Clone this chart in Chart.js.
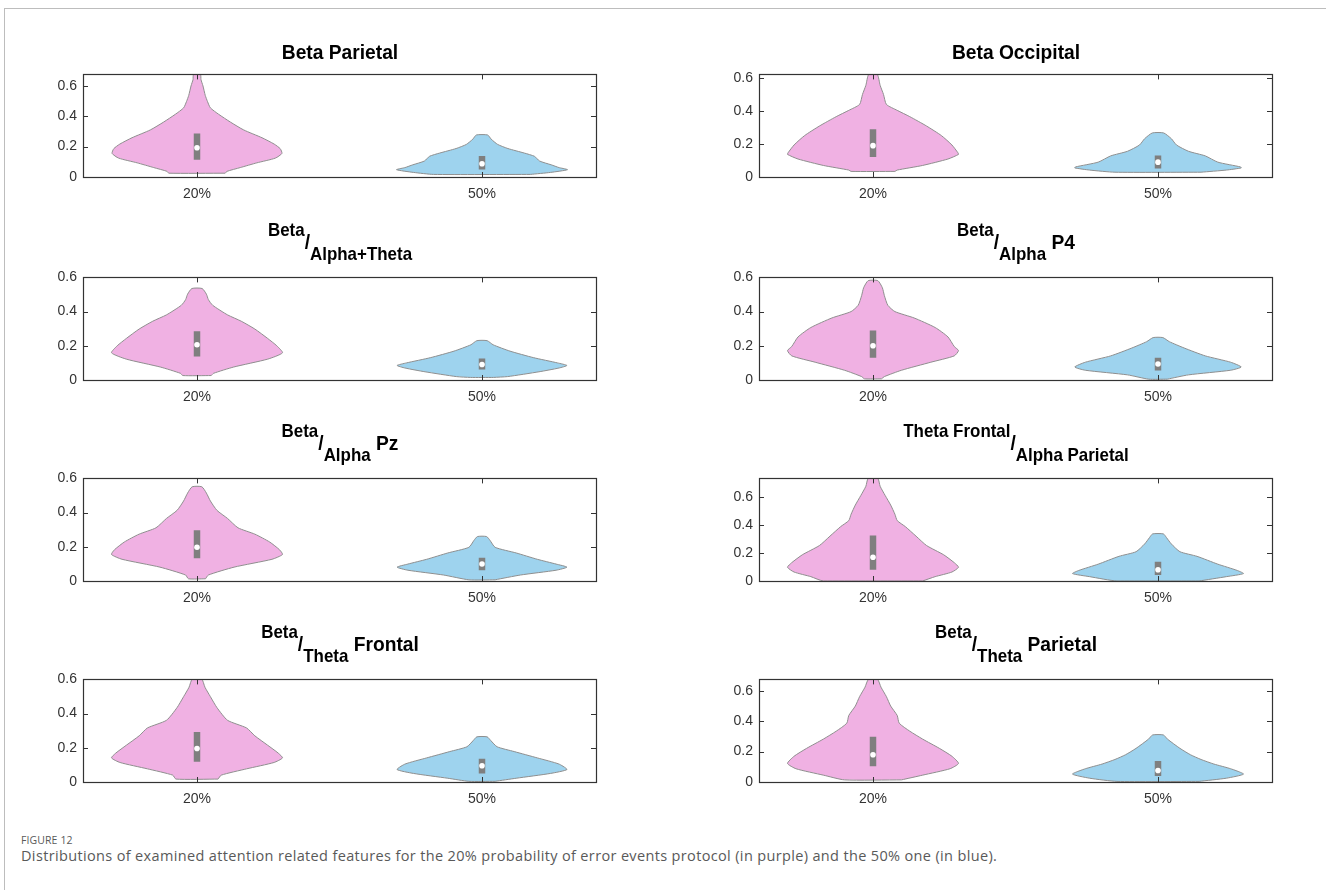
<!DOCTYPE html>
<html>
<head>
<meta charset="utf-8">
<script src="https://cdn.jsdelivr.net/npm/chart.js@4.4.1/dist/chart.umd.min.js"></script>
<style>
  html, body { margin: 0; padding: 0; background: #fff; }
  body { width: 1326px; height: 890px; position: relative; overflow: hidden; font-family: "Liberation Sans", Arial, sans-serif; }
  #frame { position: absolute; left: 4px; top: 8px; right: -2px; bottom: -2px; border-left: 1.5px solid #bdbdbd; border-top: 1.5px solid #bdbdbd; }
  canvas { position: absolute; }
  .ttl { position: absolute; white-space: pre; font-weight: bold; color: #000; font-size: 21px; line-height: 1; transform-origin: 50% 50%; }
  .cap { position: absolute; white-space: pre; font-family: "Open Sans", "Noto Sans", sans-serif; color: #595959; line-height: 1; }
</style>
</head>
<body>
<div id="frame"></div>
<script>
// Groups on the x axis
const categories = ['20%', '50%'];
const yTickValues = [0, 0.2, 0.4, 0.6];

// Panel titles: 'sup' = raised, 'sub' = lowered, 'main' = normal line
const panelTitles = [
  [['main', 'Beta Parietal']],
  [['main', 'Beta Occipital']],
  [['sup', 'Beta'], ['main', '/'], ['sub', 'Alpha+Theta']],
  [['sup', 'Beta'], ['main', '/'], ['sub', 'Alpha'], ['main', ' P4']],
  [['sup', 'Beta'], ['main', '/'], ['sub', 'Alpha'], ['main', ' Pz']],
  [['sup', 'Theta Frontal'], ['main', '/'], ['sub', 'Alpha Parietal']],
  [['sup', 'Beta'], ['main', '/'], ['sub', 'Theta'], ['main', ' Frontal']],
  [['sup', 'Beta'], ['main', '/'], ['sub', 'Theta'], ['main', ' Parietal']]
];

// Upper limit of each panel's y axis
const yMax = [0.674, 0.622, 0.6, 0.6, 0.6, 0.732, 0.6, 0.674];

// Violin outlines: [value, half width in group units], from bottom to top
const betaParietal20 = [[0.025,0.099],[0.037,0.105],[0.062,0.152],[0.093,0.21],[0.124,0.275],[0.155,0.298],[0.186,0.292],[0.216,0.271],[0.258,0.228],[0.309,0.164],[0.361,0.117],[0.412,0.076],[0.454,0.047],[0.495,0.037],[0.536,0.029],[0.598,0.021],[0.64,0.014],[0.674,0.012]];
const betaParietal50 = [[0.017,0.17],[0.03,0.24],[0.048,0.30],[0.062,0.27],[0.08,0.243],[0.105,0.202],[0.136,0.184],[0.157,0.149],[0.187,0.091],[0.214,0.055],[0.249,0.032],[0.276,0.02]];
const betaOccipital20 = [[0.034,0.077],[0.042,0.085],[0.07,0.174],[0.109,0.263],[0.137,0.30],[0.147,0.298],[0.194,0.277],[0.251,0.24],[0.309,0.188],[0.366,0.129],[0.404,0.085],[0.44,0.047],[0.50,0.037],[0.556,0.025],[0.622,0.015]];
const betaOccipital50 = [[0.029,0.151],[0.042,0.24],[0.055,0.292],[0.061,0.29],[0.09,0.21],[0.128,0.166],[0.156,0.107],[0.194,0.065],[0.232,0.047],[0.267,0.02]];
const betaAlphaTheta20 = [[0.026,0.05],[0.039,0.058],[0.076,0.129],[0.122,0.248],[0.159,0.30],[0.2,0.28],[0.243,0.248],[0.298,0.203],[0.344,0.155],[0.381,0.107],[0.437,0.055],[0.47,0.04],[0.502,0.033],[0.535,0.018]];
const betaAlphaTheta50 = [[0.015,0.04],[0.02,0.09],[0.048,0.2],[0.07,0.27],[0.085,0.298],[0.1,0.265],[0.131,0.18],[0.169,0.098],[0.206,0.039],[0.23,0.018]];
const betaAlphaP4_20 = [[0.007,0.03],[0.02,0.04],[0.057,0.1],[0.104,0.203],[0.141,0.285],[0.172,0.30],[0.196,0.285],[0.252,0.263],[0.307,0.218],[0.363,0.144],[0.40,0.077],[0.437,0.052],[0.493,0.04],[0.539,0.033],[0.581,0.017]];
const betaAlphaP4_50 = [[0.005,0.033],[0.03,0.107],[0.057,0.255],[0.076,0.292],[0.104,0.255],[0.141,0.166],[0.187,0.092],[0.224,0.04],[0.248,0.017]];
const betaAlphaPz20 = [[0.013,0.03],[0.035,0.04],[0.081,0.13],[0.127,0.263],[0.155,0.30],[0.182,0.29],[0.228,0.255],[0.274,0.203],[0.311,0.144],[0.366,0.107],[0.413,0.07],[0.468,0.047],[0.514,0.033],[0.551,0.017]];
const betaAlphaPz50 = [[0.007,0.046],[0.035,0.135],[0.063,0.26],[0.081,0.298],[0.099,0.26],[0.127,0.194],[0.164,0.12],[0.197,0.046],[0.238,0.028],[0.26,0.016]];
const thetaAlpha20 = [[0,0.174],[0.031,0.218],[0.064,0.277],[0.098,0.30],[0.131,0.285],[0.187,0.248],[0.253,0.188],[0.32,0.151],[0.387,0.114],[0.431,0.085],[0.476,0.077],[0.542,0.062],[0.609,0.043],[0.676,0.025],[0.731,0.017]];
const thetaAlpha50 = [[0,0.144],[0.031,0.24],[0.053,0.30],[0.076,0.277],[0.12,0.21],[0.176,0.137],[0.209,0.077],[0.264,0.047],[0.309,0.03],[0.336,0.019]];
const betaThetaFrontal20 = [[0.017,0.074],[0.04,0.085],[0.077,0.174],[0.114,0.27],[0.141,0.30],[0.169,0.285],[0.215,0.248],[0.27,0.203],[0.316,0.174],[0.361,0.107],[0.435,0.07],[0.499,0.047],[0.554,0.028],[0.604,0.016]];
const betaThetaFrontal50 = [[0.004,0.046],[0.022,0.12],[0.05,0.24],[0.073,0.298],[0.105,0.27],[0.141,0.194],[0.178,0.113],[0.206,0.053],[0.242,0.031],[0.264,0.018]];
const betaThetaParietal20 = [[0.014,0.1],[0.045,0.174],[0.087,0.27],[0.122,0.30],[0.169,0.277],[0.221,0.233],[0.282,0.174],[0.334,0.129],[0.386,0.092],[0.437,0.085],[0.499,0.062],[0.561,0.047],[0.623,0.028],[0.674,0.016]];
const betaThetaParietal50 = [[0.004,0.144],[0.025,0.24],[0.052,0.30],[0.087,0.255],[0.118,0.196],[0.148,0.151],[0.179,0.114],[0.221,0.077],[0.282,0.033],[0.309,0.019]];

// Box summaries per panel: [lower quartile, median, upper quartile]
const boxStats20 = [[0.113,0.192,0.285],[0.122,0.19,0.29],[0.137,0.206,0.285],[0.13,0.2,0.289],[0.133,0.197,0.297],[0.08,0.169,0.324],[0.119,0.196,0.292],[0.103,0.179,0.297]];
const boxStats50 = [[0.049,0.087,0.138],[0.051,0.09,0.131],[0.061,0.091,0.126],[0.056,0.094,0.13],[0.063,0.099,0.136],[0.042,0.08,0.138],[0.05,0.095,0.136],[0.039,0.076,0.138]];

const violins20 = [betaParietal20, betaOccipital20, betaAlphaTheta20, betaAlphaP4_20, betaAlphaPz20, thetaAlpha20, betaThetaFrontal20, betaThetaParietal20];
const violins50 = [betaParietal50, betaOccipital50, betaAlphaTheta50, betaAlphaP4_50, betaAlphaPz50, thetaAlpha50, betaThetaFrontal50, betaThetaParietal50];

// Page geometry
const COL_LEFT = [83, 759];
const ROW_TOP = [68, 271, 472, 673];
const PLOT_W = 513, PLOT_H = 109;
const PAD_L = 60, PAD_T = 8, PAD_R = 8, PAD_B = 32;

const FILL = ['#f0b1e3', '#9ed3ee'];
const EDGE = '#8f8f8f';
const AXIS = '#333333';
const TICK_FONT = { family: '"Liberation Sans", Arial, sans-serif', size: 14 };

// Turns a violin profile into a closed outline around the group position
function outline(profile, center) {
  const right = profile.map(([v, w]) => ({ x: center + w, y: v }));
  const left = profile.slice().reverse().map(([v, w]) => ({ x: center - w, y: v }));
  const pts = right.concat(left);
  pts.push(pts[0]);
  return pts;
}

// Box frame with inward tick marks on all four sides
const axesBox = {
  id: 'axesBox',
  afterDatasetsDraw(chart) {
    const { ctx, chartArea: a, scales } = chart;
    const L = 5;
    ctx.save();
    ctx.strokeStyle = AXIS;
    ctx.lineWidth = 1;
    ctx.beginPath();
    scales.x.ticks.forEach(t => {
      const px = Math.round(scales.x.getPixelForValue(t.value)) + 0.5;
      ctx.moveTo(px, a.bottom); ctx.lineTo(px, a.bottom - L);
      ctx.moveTo(px, a.top); ctx.lineTo(px, a.top + L);
    });
    scales.y.ticks.forEach(t => {
      const py = Math.round(scales.y.getPixelForValue(t.value)) + 0.5;
      ctx.moveTo(a.left, py); ctx.lineTo(a.left + L, py);
      ctx.moveTo(a.right, py); ctx.lineTo(a.right - L, py);
    });
    ctx.stroke();
    ctx.lineWidth = 1.2;
    ctx.strokeRect(Math.round(a.left) + 0.5, Math.round(a.top) + 0.5,
                   Math.round(a.right - a.left), Math.round(a.bottom - a.top));
    ctx.restore();
  }
};

function makePanel(i) {
  const col = i % 2, row = Math.floor(i / 2);
  const cv = document.createElement('canvas');
  const w = PLOT_W + PAD_L + PAD_R, h = PLOT_H + PAD_T + PAD_B;
  cv.width = w; cv.height = h;
  cv.style.left = (COL_LEFT[col] - PAD_L) + 'px';
  cv.style.top = (ROW_TOP[row] - PAD_T) + 'px';
  cv.style.width = w + 'px'; cv.style.height = h + 'px';
  document.body.appendChild(cv);

  const datasets = [];
  [violins20[i], violins50[i]].forEach((prof, g) => {
    datasets.push({
      data: outline(prof, g + 1), showLine: true, fill: 'shape',
      backgroundColor: FILL[g], borderColor: EDGE, borderWidth: 1,
      pointRadius: 0, tension: 0.2, order: 3
    });
  });
  [boxStats20[i], boxStats50[i]].forEach((b, g) => {
    datasets.push({
      data: [{ x: g + 1, y: b[0] }, { x: g + 1, y: b[2] }], showLine: true,
      borderColor: '#7f7f7f', borderWidth: 6.5, borderCapStyle: 'butt',
      pointRadius: 0, fill: false, order: 2
    });
    datasets.push({
      data: [{ x: g + 1, y: b[1] }], showLine: false,
      pointRadius: 2.8, pointBackgroundColor: '#ffffff', pointBorderWidth: 0,
      pointBorderColor: '#ffffff', order: 1
    });
  });

  const top = yMax[i];
  new Chart(cv, {
    type: 'scatter',
    data: { datasets },
    options: {
      responsive: false, animation: false, devicePixelRatio: 1,
      layout: { padding: { left: 0, top: PAD_T, right: PAD_R, bottom: 0 } },
      plugins: { legend: { display: false }, tooltip: { enabled: false } },
      scales: {
        x: {
          type: 'linear', min: 0.6, max: 2.4,
          afterBuildTicks: s => { s.ticks = categories.map((_, k) => ({ value: k + 1 })); },
          afterFit: s => { s.height = PAD_B; },
          grid: { display: false, drawTicks: false }, border: { display: false },
          ticks: { callback: v => categories[Math.round(v) - 1], color: AXIS, font: TICK_FONT, padding: 9, autoSkip: false, maxRotation: 0 }
        },
        y: {
          type: 'linear', min: 0, max: top,
          afterBuildTicks: s => { s.ticks = yTickValues.filter(v => v <= top + 1e-9).map(v => ({ value: v })); },
          afterFit: s => { s.width = PAD_L; },
          grid: { display: false, drawTicks: false }, border: { display: false },
          ticks: { callback: v => String(+v.toFixed(1)), color: AXIS, font: TICK_FONT, padding: 6 }
        }
      }
    },
    plugins: [axesBox]
  });
}

// Places a text block so that its baseline lands on baseY
function placeOnBaseline(div, baseY) {
  const marker = document.createElement('span');
  marker.style.cssText = 'display:inline-block;width:0;height:0;vertical-align:baseline;';
  div.appendChild(marker);
  div.style.top = '0px';
  document.body.appendChild(div);
  const off = marker.getBoundingClientRect().top - div.getBoundingClientRect().top;
  div.style.top = (baseY - off) + 'px';
}

function makeTitle(i) {
  const col = i % 2, row = Math.floor(i / 2);
  const parts = panelTitles[i];
  const div = document.createElement('div');
  div.className = 'ttl';
  parts.forEach(([kind, txt]) => {
    const s = document.createElement('span');
    s.textContent = txt;
    if (kind !== 'main') {
      s.style.fontSize = '18.5px';
      s.style.position = 'relative';
      s.style.top = kind === 'sup' ? '-13px' : '11.8px';
    }
    div.appendChild(s);
  });
  const scripted = parts.some(p => p[0] !== 'main');
  const baseY = ROW_TOP[row] - (scripted ? 22.5 : 9);
  div.style.left = (COL_LEFT[col] + PLOT_W / 2) + 'px';
  placeOnBaseline(div, baseY);
  div.style.transform = 'translateX(-50%) scaleX(0.915)';
}

for (let i = 0; i < 8; i++) { makePanel(i); makeTitle(i); }

// Figure caption
const figLabel = document.createElement('div');
figLabel.className = 'cap';
figLabel.style.cssText += 'left:21px;font-size:10.5px;letter-spacing:0.1px;';
figLabel.textContent = 'FIGURE 12';
placeOnBaseline(figLabel, 843.5);

const figText = document.createElement('div');
figText.className = 'cap';
figText.style.cssText += 'left:21px;font-size:14.5px;letter-spacing:0.35px;';
figText.textContent = 'Distributions of examined attention related features for the 20% probability of error events protocol (in purple) and the 50% one (in blue).';
placeOnBaseline(figText, 861);
</script>
</body>
</html>
